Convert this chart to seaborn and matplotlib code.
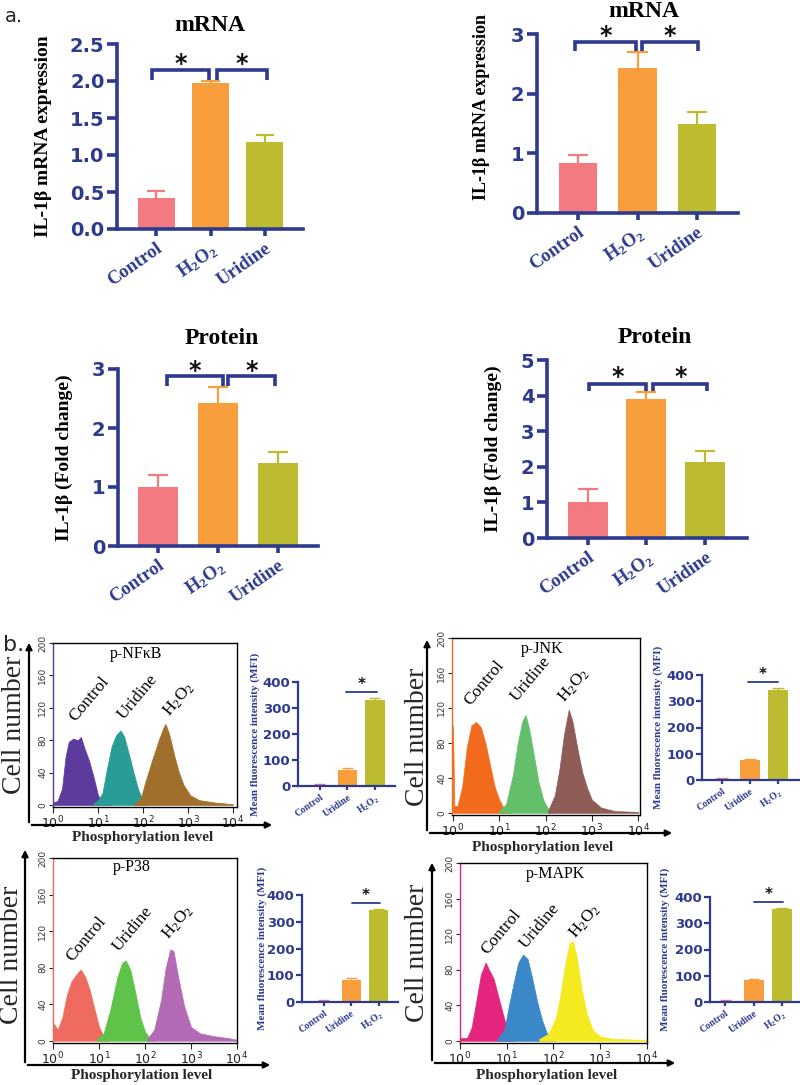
import numpy as np
import pandas as pd
import matplotlib
matplotlib.use("Agg")
import matplotlib.pyplot as plt
import seaborn as sns
from matplotlib.patches import FancyArrowPatch
from matplotlib.ticker import LogLocator, NullFormatter

sns.set_style("white")
plt.rcParams['font.family'] = ['Liberation Serif', 'DejaVu Sans']
plt.rcParams['mathtext.fontset'] = 'dejavusans'

# ---------------- data: panel a ----------------
groups_a = ["Control", "H2O2", "Uridine"]
mrna1_mean = [0.42, 1.97, 1.18]
mrna1_err = [0.10, 0.03, 0.09]
mrna2_mean = [0.83, 2.43, 1.50]
mrna2_err = [0.15, 0.27, 0.20]
prot1_mean = [1.00, 2.43, 1.40]
prot1_err = [0.20, 0.27, 0.20]
prot2_mean = [1.00, 3.90, 2.13]
prot2_err = [0.37, 0.20, 0.30]
ticks_mrna1 = [0.0, 0.5, 1.0, 1.5, 2.0, 2.5]
ticks_mrna2 = [0, 1, 2, 3]
ticks_prot1 = [0, 1, 2, 3]
ticks_prot2 = [0, 1, 2, 3, 4, 5]

# ---------------- data: panel b (MFI bars) ----------------
groups_b = ["Control", "Uridine", "H2O2"]
mfi_nfkb = [5, 62, 330]
mfi_nfkb_err = [2, 8, 7]
mfi_jnk = [5, 75, 343]
mfi_jnk_err = [1, 5, 6]
mfi_p38 = [5, 83, 343]
mfi_p38_err = [1, 5, 5]
mfi_mapk = [5, 85, 355]
mfi_mapk_err = [1, 4, 4]
ticks_mfi = [0, 100, 200, 300, 400]

# ---------------- data: panel b (flow histograms, log10 intensity vs count) ----------------
nfkb_ctrl_x = [0.0, 0.1, 0.2, 0.28, 0.35, 0.45, 0.55, 0.62, 0.7, 0.8, 0.9, 1.0, 1.1, 1.3]
nfkb_ctrl_y = [3, 5, 20, 60, 78, 82, 80, 84, 70, 55, 35, 12, 3, 0]
nfkb_uri_x = [0.9, 1.0, 1.1, 1.2, 1.3, 1.4, 1.5, 1.58, 1.7, 1.8, 1.9, 2.0, 2.1]
nfkb_uri_y = [2, 6, 15, 45, 72, 86, 92, 85, 60, 38, 18, 6, 1]
nfkb_h2o2_x = [1.8, 1.95, 2.05, 2.2, 2.35, 2.45, 2.5, 2.58, 2.7, 2.8, 2.9, 3.05, 3.25, 3.6, 4.0]
nfkb_h2o2_y = [1, 8, 28, 55, 80, 95, 100, 88, 60, 40, 25, 12, 6, 3, 1]

jnk_ctrl_x = [0.0, 0.03, 0.1, 0.2, 0.3, 0.4, 0.5, 0.6, 0.7, 0.8, 0.9, 1.0, 1.1, 1.25]
jnk_ctrl_y = [100, 8, 8, 30, 75, 100, 104, 98, 80, 55, 30, 15, 5, 0]
jnk_uri_x = [1.0, 1.15, 1.3, 1.4, 1.5, 1.57, 1.65, 1.75, 1.85, 1.95, 2.05, 2.15]
jnk_uri_y = [2, 10, 45, 80, 105, 112, 95, 65, 35, 15, 5, 1]
jnk_h2o2_x = [2.05, 2.2, 2.3, 2.4, 2.5, 2.58, 2.7, 2.8, 2.9, 3.0, 3.2, 3.5, 4.0]
jnk_h2o2_y = [2, 20, 50, 90, 118, 105, 70, 45, 28, 15, 6, 2, 1]

p38_ctrl_x = [0.0, 0.1, 0.2, 0.3, 0.4, 0.5, 0.6, 0.7, 0.8, 0.9, 1.0, 1.1, 1.2]
p38_ctrl_y = [20, 12, 25, 50, 65, 72, 78, 70, 55, 35, 15, 5, 2]
p38_uri_x = [0.95, 1.1, 1.25, 1.4, 1.5, 1.58, 1.68, 1.8, 1.9, 2.0, 2.1, 2.2]
p38_uri_y = [2, 8, 35, 70, 85, 88, 78, 50, 25, 10, 3, 1]
p38_h2o2_x = [2.05, 2.2, 2.35, 2.45, 2.55, 2.62, 2.72, 2.85, 3.0, 3.2, 3.5, 3.8, 4.0]
p38_h2o2_y = [2, 12, 45, 80, 100, 98, 70, 38, 15, 8, 5, 3, 1]

mapk_ctrl_x = [0.0, 0.15, 0.25, 0.35, 0.45, 0.55, 0.62, 0.72, 0.82, 0.92, 1.0, 1.08, 1.2]
mapk_ctrl_y = [3, 3, 15, 45, 75, 88, 80, 70, 50, 30, 15, 4, 1]
mapk_uri_x = [0.8, 0.95, 1.05, 1.15, 1.25, 1.35, 1.45, 1.55, 1.65, 1.75, 1.85, 1.95, 2.05]
mapk_uri_y = [2, 12, 40, 65, 88, 97, 92, 70, 45, 25, 10, 3, 1]
mapk_h2o2_x = [1.7, 1.9, 2.05, 2.15, 2.25, 2.35, 2.42, 2.5, 2.6, 2.72, 2.85, 3.0, 3.3, 4.0]
mapk_h2o2_y = [2, 8, 25, 50, 85, 110, 112, 95, 60, 30, 12, 5, 2, 1]

hist_ticks_y = [0, 40, 80, 120, 160, 200]
hist_ticks_x = [1, 10, 100, 1000, 10000]
hist_tick_labels = [r'$10^0$', r'$10^1$', r'$10^2$', r'$10^3$', r'$10^4$']

# ---------------- style ----------------
NAVY = '#2D3A8E'
colors_a = ['#F27A80', '#F99E3C', '#BDBC30']
colors_b = ['#F27A80', '#F99E3C', '#BDBC30']
H2O2 = r'$\mathregular{H_2O_2}$'
labels_a = ['Control', H2O2, 'Uridine']
labels_b = ['Control', 'Uridine', H2O2]

W, H = 800, 1085
fig = plt.figure(figsize=(W / 100, H / 100), dpi=100)
fig.patch.set_facecolor('white')


def rect(l, t, r, b):
    return [l / W, 1 - b / H, (r - l) / W, (b - t) / H]


def up_errors(ax, means, errs, cols, cap_half, lw):
    for i, (m, e) in enumerate(zip(means, errs)):
        ax.vlines(i, m, m + e, color=cols[i], lw=lw, zorder=1)
        ax.hlines(m + e, i - cap_half, i + cap_half, color=cols[i], lw=lw, zorder=1)


def bar_a(box, means, errs, yticks, fmt, xlim, width, title, title_xy, ylabel, ylab_xy, ylab_fs,
          brackets, br_top, br_drop, star_y):
    ax = fig.add_axes(rect(*box))
    df = pd.DataFrame({'group': groups_a, 'value': means})
    sns.barplot(data=df, x='group', y='value', hue='group', palette=colors_a, legend=False,
                width=width, saturation=1, errorbar=None, ax=ax, linewidth=0, zorder=2)
    up_errors(ax, means, errs, colors_a, 0.17, 1.6)
    ax.set_xlim(*xlim)
    ax.set_ylim(yticks[0], yticks[-1])
    for s in ['top', 'right']:
        ax.spines[s].set_visible(False)
    for s in ['left', 'bottom']:
        ax.spines[s].set_color(NAVY)
        ax.spines[s].set_linewidth(2.6)
    ax.set_yticks(yticks)
    ax.set_yticklabels([fmt.format(t) for t in yticks], fontfamily='DejaVu Sans',
                       fontweight='bold', fontsize=14, color=NAVY)
    ax.set_xticks(range(3))
    ax.set_xticklabels(labels_a, rotation=35, ha='right', rotation_mode='anchor',
                       fontsize=13.5, fontweight='bold', color=NAVY)
    ax.tick_params(axis='y', direction='out', length=7, width=2.6, color=NAVY, pad=2, left=True)
    ax.tick_params(axis='x', direction='out', length=5, width=2.6, color=NAVY, pad=3, bottom=True)
    ax.set_xlabel('')
    ax.set_ylabel(ylabel, fontsize=ylab_fs, fontweight='bold', color='black')
    ax.yaxis.set_label_coords(*ylab_xy)
    ax.text(title_xy[0], title_xy[1], title, transform=ax.transAxes, ha='center', va='center',
            fontsize=17, fontweight='bold', color='black')
    for x0, x1 in brackets:
        ax.plot([x0, x0, x1, x1], [br_drop, br_top, br_top, br_drop], color=NAVY, lw=2.6,
                clip_on=False, solid_joinstyle='miter', solid_capstyle='butt')
        ax.text((x0 + x1) / 2, star_y, '*', ha='center', va='center', fontsize=17,
                fontweight='bold', fontfamily='DejaVu Sans', color='#111111', clip_on=False)
    return ax


def bar_b(box, vals, errs, xlim, ylab_x, sig_x, sig_y, star_y):
    ax = fig.add_axes(rect(*box))
    df = pd.DataFrame({'group': groups_b, 'value': vals})
    sns.barplot(data=df, x='group', y='value', hue='group', palette=colors_b, legend=False,
                width=0.7, saturation=1, errorbar=None, ax=ax, linewidth=0, zorder=2)
    up_errors(ax, vals, errs, colors_b, 0.2, 1.0)
    ax.set_xlim(*xlim)
    ax.set_ylim(0, 400)
    for s in ['top', 'right']:
        ax.spines[s].set_visible(False)
    for s in ['left', 'bottom']:
        ax.spines[s].set_color(NAVY)
        ax.spines[s].set_linewidth(1.6)
    ax.set_yticks(ticks_mfi)
    ax.set_yticklabels([str(t) for t in ticks_mfi], fontfamily='DejaVu Sans',
                       fontweight='bold', fontsize=9.5, color=NAVY)
    ax.set_xticks(range(3))
    ax.set_xticklabels(labels_b, rotation=35, ha='right', rotation_mode='anchor',
                       fontsize=7, fontweight='bold', color=NAVY)
    ax.tick_params(axis='y', direction='out', length=4, width=1.6, color=NAVY, pad=1.5, left=True)
    ax.tick_params(axis='x', direction='out', length=3, width=1.6, color=NAVY, pad=2, bottom=True)
    ax.set_xlabel('')
    ax.set_ylabel('Mean fluorescence intensity (MFI)', fontsize=8, fontweight='bold', color=NAVY)
    ax.yaxis.set_label_coords(ylab_x, 0.5)
    ax.plot(sig_x, [sig_y, sig_y], color=NAVY, lw=1.3, clip_on=False)
    ax.text(np.mean(sig_x), star_y, '*', ha='center', va='center', fontsize=11,
            fontweight='bold', fontfamily='DejaVu Sans', color='#111111', clip_on=False)
    return ax


def hist_panel(box, series, cols, xlim_log, title, title_xy, label_pos):
    ax = fig.add_axes(rect(*box))
    ax.set_xscale('log')
    for (xs, ys), c in zip(series, cols):
        ax.fill_between(10 ** np.asarray(xs, dtype=float), ys, 0, color=c, linewidth=0.5,
                        edgecolor=c)
    ax.set_xlim(10 ** xlim_log[0], 10 ** xlim_log[1])
    ax.set_ylim(-2.5, 200)
    for s in ax.spines.values():
        s.set_color('black')
        s.set_linewidth(1.0)
    ax.spines['left'].set_color(cols[0])
    ax.set_yticks(hist_ticks_y)
    ax.set_yticklabels([str(t) for t in hist_ticks_y], rotation=90, va='center',
                       fontfamily='DejaVu Sans', fontsize=6.5, color='#333333')
    ax.set_xticks(hist_ticks_x)
    ax.set_xticklabels(hist_tick_labels, fontsize=9, color='#222222')
    ax.xaxis.set_minor_locator(LogLocator(base=10, subs=np.arange(2, 10)))
    ax.xaxis.set_minor_formatter(NullFormatter())
    ax.tick_params(axis='y', direction='out', length=3, width=0.8, pad=1, left=True)
    ax.tick_params(axis='x', which='major', direction='out', length=4, width=0.8, pad=1.5,
                   bottom=True)
    ax.tick_params(axis='x', which='minor', direction='out', length=2, width=0.6, bottom=True)
    ax.text(title_xy[0], title_xy[1], title, transform=ax.transAxes, ha='center',
            va='center', fontsize=11.5, color='black')
    for name, (lx, ly) in zip(['Control', 'Uridine', H2O2], label_pos):
        ax.text(10 ** lx, ly, name, rotation=50, ha='left', va='bottom', rotation_mode='anchor',
                fontsize=12.5, color='black')
    return ax


def frame_arrows(x, y_top, y_bot, x_right, xlabel_xy, ylabel_xy):
    for (x0, y0, x1, y1) in [(x, y_bot, x, y_top), (x, y_bot, x_right, y_bot)]:
        arr = FancyArrowPatch((x0 / W, 1 - y0 / H), (x1 / W, 1 - y1 / H),
                              transform=fig.transFigure, arrowstyle='-|>', mutation_scale=9,
                              lw=1.6, color='black')
        fig.add_artist(arr)
    fig.text(xlabel_xy[0] / W, 1 - xlabel_xy[1] / H, 'Phosphorylation level', ha='center',
             va='center', fontsize=11, fontweight='bold')
    fig.text(ylabel_xy[0] / W, 1 - ylabel_xy[1] / H, 'Cell number', ha='center', va='center',
             rotation=90, fontsize=20)


# ---------------- panel a ----------------
bar_a((117, 44, 303, 229), mrna1_mean, mrna1_err, ticks_mrna1, '{:.1f}', (-0.72, 2.7), 0.68,
      'mRNA', (0.5, 1.1), 'IL-1β mRNA expression', (-0.35, 0.5), 14,
      [(-0.07, 0.97), (1.12, 2.04)], 2.15, 2.02, 2.23)
bar_a((537, 34, 738, 213), mrna2_mean, mrna2_err, ticks_mrna2, '{:.0f}', (-0.69, 2.69), 0.64,
      'mRNA', (0.53, 1.125), 'IL-1β mRNA expression', (-0.234, 0.59), 13,
      [(-0.05, 0.97), (1.07, 2.02)], 2.87, 2.72, 2.97)
bar_a((118, 369, 318, 546), prot1_mean, prot1_err, ticks_prot1, '{:.0f}', (-0.67, 2.67), 0.66,
      'Protein', (0.52, 1.175), 'IL-1β (Fold change)', (-0.225, 0.5), 14,
      [(0.15, 1.08), (1.17, 1.95)], 2.88, 2.71, 2.97)
bar_a((547, 360, 747, 538), prot2_mean, prot2_err, ticks_prot2, '{:.0f}', (-0.69, 2.71), 0.68,
      'Protein', (0.54, 1.124), 'IL-1β (Fold change)', (-0.225, 0.5), 14,
      [(0.03, 1.0), (1.12, 2.03)], 4.33, 4.12, 4.52)

fig.text(5 / W, 1 - 17 / H, 'a.', ha='left', va='center', fontsize=14, fontfamily='DejaVu Sans')
fig.text(3 / W, 1 - 645 / H, 'b.', ha='left', va='center', fontsize=16, fontfamily='DejaVu Sans')

# ---------------- panel b: histograms ----------------
hist_panel((53, 643, 237, 807),
           [(nfkb_ctrl_x, nfkb_ctrl_y), (nfkb_uri_x, nfkb_uri_y), (nfkb_h2o2_x, nfkb_h2o2_y)],
           ['#5D3B9C', '#2A9C97', '#A06F2C'], (0, 4.09), 'p-NFκB', (0.45, 0.93),
           [(0.56, 99), (1.64, 102), (2.67, 105)])
hist_panel((452, 638, 640, 815),
           [(jnk_ctrl_x, jnk_ctrl_y), (jnk_uri_x, jnk_uri_y), (jnk_h2o2_x, jnk_h2o2_y)],
           ['#F26B1D', '#63BF6A', '#8F5B57'], (-0.02, 4.04), 'p-JNK', (0.48, 0.94),
           [(0.43, 119), (1.45, 124), (2.49, 122)])
hist_panel((53, 858, 237, 1043),
           [(p38_ctrl_x, p38_ctrl_y), (p38_uri_x, p38_uri_y), (p38_h2o2_x, p38_h2o2_y)],
           ['#EF6A5F', '#5FC34A', '#B36AB5'], (0, 4.0), 'p-P38', (0.43, 0.95),
           [(0.48, 83), (1.5, 94), (2.58, 107)])
hist_panel((460, 863, 647, 1043),
           [(mapk_ctrl_x, mapk_ctrl_y), (mapk_uri_x, mapk_uri_y), (mapk_h2o2_x, mapk_h2o2_y)],
           ['#E5247D', '#3B88C9', '#F4EA1F'], (0, 4.01), 'p-MAPK', (0.51, 0.94),
           [(0.65, 94), (1.47, 100), (2.55, 111)])

frame_arrows(29, 640, 825, 275, (143, 837), (15, 725))
frame_arrows(427, 637, 833, 675, (543, 847), (417, 737))
frame_arrows(25, 847, 1065, 273, (142, 1076), (12, 955))
frame_arrows(432, 860, 1063, 678, (547, 1076), (417, 953))

# ---------------- panel b: MFI bars ----------------
bar_b((298, 682, 395, 786), mfi_nfkb, mfi_nfkb_err, (-0.8, 2.73), -0.39, [0.93, 2.07], 361, 390)
bar_b((702, 675, 799, 780), mfi_jnk, mfi_jnk_err, (-0.71, 2.75), -0.40, [0.93, 2.0], 373, 400)
bar_b((302, 895, 398, 1002), mfi_p38, mfi_p38_err, (-0.8, 2.7), -0.36, [1.03, 2.03], 370, 398)
bar_b((710, 897, 799, 1002), mfi_mapk, mfi_mapk_err, (-0.54, 2.6), -0.45, [1.0, 2.03], 382, 410)

fig.savefig('out.png', dpi=100, facecolor='white')
